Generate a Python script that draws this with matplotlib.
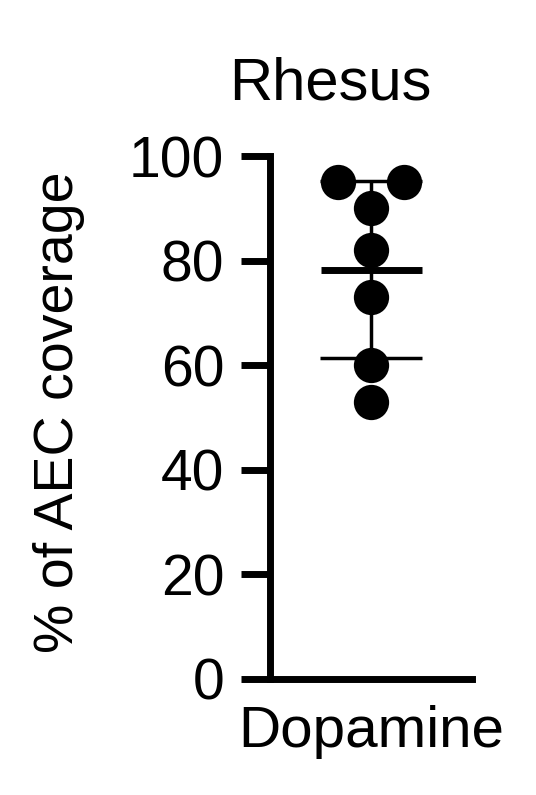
import matplotlib
matplotlib.use("Agg")
import matplotlib.pyplot as plt
import numpy as np

# Rhesus, dopamine: % of AEC coverage per animal
group = "Dopamine"
title = "Rhesus"
ylabel = "% of AEC coverage"
values = [95, 95, 90, 82, 73, 60, 53]
x_jitter = [-0.33, 0.33, 0, 0, 0, 0, 0]
yticks = [0, 20, 40, 60, 80, 100]

plt.rcParams["font.family"] = ["Liberation Sans", "DejaVu Sans"]

W, H = 536, 795
fig = plt.figure(figsize=(W / 100, H / 100), dpi=100)
ax = fig.add_axes([270 / W, 1 - 679 / H, 202 / W, 523 / H])

vals = np.array(values, dtype=float)
mean = vals.mean()
sd = vals.std(ddof=1)

ax.errorbar(0, mean, yerr=sd, fmt="none", ecolor="black", elinewidth=2.5,
            capsize=37, capthick=2.5, zorder=2)
ax.plot(np.array(x_jitter), vals, "o", color="black", markersize=25.4,
        markeredgewidth=0, zorder=3, clip_on=False)
ax.hlines(mean, -0.5, 0.5, color="black", linewidth=5, zorder=4)

ax.set_xlim(-1, 1)
ax.set_ylim(0, 100)
ax.set_yticks(yticks)
ax.set_yticklabels([str(t) for t in yticks], fontsize=41)
ax.set_xticks([0])
ax.set_xticklabels([group], fontsize=42)

ax.spines[["top", "right"]].set_visible(False)
for s in ("left", "bottom"):
    ax.spines[s].set_linewidth(5)
ax.tick_params(axis="y", length=21, width=5, pad=12)
ax.tick_params(axis="x", length=0, pad=19)

fig.text(330 / W, 1 - 100 / H, title, fontsize=43, ha="center", va="baseline")
fig.text(73 / W, 1 - 412 / H, ylabel, fontsize=40, rotation=90,
         rotation_mode="anchor", ha="center", va="baseline")

fig.savefig("out.png", dpi=100)
